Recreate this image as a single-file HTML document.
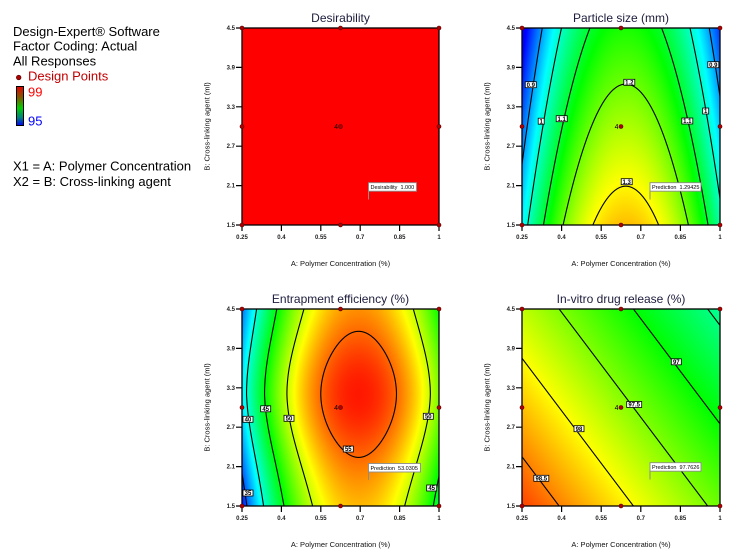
<!DOCTYPE html>
<html><head><meta charset="utf-8">
<style>
html,body{margin:0;padding:0;background:#fff;}
body{width:746px;height:559px;position:relative;overflow:hidden;font-family:"Liberation Sans",Arial,sans-serif;}
canvas,.fld{position:absolute;display:block;}
svg{position:absolute;left:0;top:0;}
</style></head><body>
<div class="fld" style="left:242px;top:28px;width:197px;height:197px;background:#ff0000;"></div>
<canvas id="c2" style="left:522px;top:28px;width:198px;height:197px;background:linear-gradient(90deg,#0040ff,#00ffd0 20%,#60ff00 50%,#00ffd0 80%,#0040ff);"></canvas>
<canvas id="c3" style="left:242px;top:309px;width:197px;height:197px;background:radial-gradient(#ff2000,#ffff00 45%,#00ff00 75%,#00a0ff);"></canvas>
<canvas id="c4" style="left:522px;top:309px;width:198px;height:197px;background:linear-gradient(45deg,#ff4000,#ffff00 45%,#40ff00 75%,#00ff90);"></canvas>

<svg width="746" height="559" viewBox="0 0 746 559" font-family="Liberation Sans, Arial, sans-serif">
<defs>
<linearGradient id="lg" x1="0" y1="0" x2="0" y2="1">
<stop offset="0" stop-color="#e80000"/><stop offset="0.3" stop-color="#7a6000"/><stop offset="0.55" stop-color="#00d000"/><stop offset="0.8" stop-color="#008080"/><stop offset="1" stop-color="#0000ff"/>
</linearGradient>
</defs>
<!-- left info -->
<g font-size="13" fill="#000">
<text x="13" y="36">Design-Expert® Software</text>
<text x="13" y="50.5">Factor Coding: Actual</text>
<text x="13" y="65.5">All Responses</text>
<text x="28" y="80.5" fill="#c00000">Design Points</text>
<text x="28" y="96.5" fill="#ff0000">99</text>
<text x="28" y="125.5" fill="#0000ff">95</text>
<text x="13" y="170.5">X1 = A: Polymer Concentration</text>
<text x="13" y="186">X2 = B: Cross-linking agent</text>
</g>
<circle cx="18.7" cy="77.5" r="2.3" fill="#b00000" stroke="#500000" stroke-width="0.7"/>
<rect x="16.5" y="86.5" width="7" height="39" fill="url(#lg)" stroke="#000" stroke-width="1"/>

<!-- titles -->
<g font-size="12" fill="#1c1c3c" text-anchor="middle">
<text x="340.5" y="22">Desirability</text>
<text x="621" y="22">Particle size (mm)</text>
<text x="340.5" y="303">Entrapment efficiency (%)</text>
<text x="621" y="303">In-vitro drug release (%)</text>
</g>
<!-- axis titles -->
<g font-size="7.5" fill="#111" text-anchor="middle">
<text x="340.5" y="266">A: Polymer Concentration (%)</text>
<text x="621" y="266">A: Polymer Concentration (%)</text>
<text x="340.5" y="547">A: Polymer Concentration (%)</text>
<text x="621" y="547">A: Polymer Concentration (%)</text>
<text transform="translate(209.5,126.5) rotate(-90)">B: Cross-linking agent (ml)</text>
<text transform="translate(489.5,126.5) rotate(-90)">B: Cross-linking agent (ml)</text>
<text transform="translate(209.5,407.5) rotate(-90)">B: Cross-linking agent (ml)</text>
<text transform="translate(489.5,407.5) rotate(-90)">B: Cross-linking agent (ml)</text>
</g>

<!-- borders -->
<g fill="none" stroke="#000" stroke-width="1.3">
<rect x="242" y="28" width="197" height="197"/>
<rect x="522" y="28" width="198" height="197"/>
<rect x="242" y="309" width="197" height="197"/>
<rect x="522" y="309" width="198" height="197"/>
</g>
<!-- ticks -->
<g stroke="#000" stroke-width="1.2">
<path d="M242 225v6M281.4 225v6M320.8 225v6M360.2 225v6M399.6 225v6M439 225v6M236 225h6M236 185.6h6M236 146.2h6M236 106.8h6M236 67.4h6M236 28h6"/>
<path d="M522 225v6M561.6 225v6M601.2 225v6M640.8 225v6M680.4 225v6M720 225v6M516 225h6M516 185.6h6M516 146.2h6M516 106.8h6M516 67.4h6M516 28h6"/>
<path d="M242 506v6M281.4 506v6M320.8 506v6M360.2 506v6M399.6 506v6M439 506v6M236 506h6M236 466.6h6M236 427.2h6M236 387.8h6M236 348.4h6M236 309h6"/>
<path d="M522 506v6M561.6 506v6M601.2 506v6M640.8 506v6M680.4 506v6M720 506v6M516 506h6M516 466.6h6M516 427.2h6M516 387.8h6M516 348.4h6M516 309h6"/>
</g>
<!-- tick labels -->
<g font-size="6" font-weight="bold" fill="#222" text-anchor="middle">
<text x="242" y="239">0.25</text><text x="281.4" y="239">0.4</text><text x="320.8" y="239">0.55</text><text x="360.2" y="239">0.7</text><text x="399.6" y="239">0.85</text><text x="439" y="239">1</text>
<text x="522" y="239">0.25</text><text x="561.6" y="239">0.4</text><text x="601.2" y="239">0.55</text><text x="640.8" y="239">0.7</text><text x="680.4" y="239">0.85</text><text x="720" y="239">1</text>
<text x="242" y="520">0.25</text><text x="281.4" y="520">0.4</text><text x="320.8" y="520">0.55</text><text x="360.2" y="520">0.7</text><text x="399.6" y="520">0.85</text><text x="439" y="520">1</text>
<text x="522" y="520">0.25</text><text x="561.6" y="520">0.4</text><text x="601.2" y="520">0.55</text><text x="640.8" y="520">0.7</text><text x="680.4" y="520">0.85</text><text x="720" y="520">1</text>
</g>
<g font-size="6" font-weight="bold" fill="#222" text-anchor="end">
<text x="235" y="227">1.5</text><text x="235" y="187.6">2.1</text><text x="235" y="148.2">2.7</text><text x="235" y="108.8">3.3</text><text x="235" y="69.4">3.9</text><text x="235" y="30">4.5</text>
<text x="515" y="227">1.5</text><text x="515" y="187.6">2.1</text><text x="515" y="148.2">2.7</text><text x="515" y="108.8">3.3</text><text x="515" y="69.4">3.9</text><text x="515" y="30">4.5</text>
<text x="235" y="508">1.5</text><text x="235" y="468.6">2.1</text><text x="235" y="429.2">2.7</text><text x="235" y="389.8">3.3</text><text x="235" y="350.4">3.9</text><text x="235" y="311">4.5</text>
<text x="515" y="508">1.5</text><text x="515" y="468.6">2.1</text><text x="515" y="429.2">2.7</text><text x="515" y="389.8">3.3</text><text x="515" y="350.4">3.9</text><text x="515" y="311">4.5</text>
</g>

<!-- contour labels -->
<g fill="#fff" stroke="#000" stroke-width="0.8">
<rect x="525.3" y="81.7" width="11" height="6"/>
<rect x="538.2" y="118.2" width="6" height="6"/>
<rect x="556.2" y="115.7" width="11" height="6"/>
<rect x="623.8" y="79.3" width="11" height="6"/>
<rect x="621.2" y="178.7" width="11" height="6"/>
<rect x="681.8" y="118" width="11" height="6"/>
<rect x="702.7" y="108" width="6" height="6"/>
<rect x="707.8" y="61.7" width="11" height="6"/>

<rect x="260.7" y="405.8" width="10" height="6"/>
<rect x="243" y="416.3" width="10" height="6"/>
<rect x="284" y="415.3" width="10" height="6"/>
<rect x="343.3" y="446" width="10" height="6"/>
<rect x="423.3" y="413.3" width="10" height="6"/>
<rect x="426.7" y="485" width="10" height="6"/>
<rect x="243" y="490" width="10" height="6"/>

<rect x="671.3" y="358.8" width="10" height="6"/>
<rect x="626.7" y="401.5" width="15" height="6"/>
<rect x="574" y="425.7" width="10" height="6"/>
<rect x="533.8" y="475.3" width="15" height="6"/>
</g>
<g font-size="6" font-weight="bold" fill="#000" text-anchor="middle">
<text x="530.8" y="86.9">0.9</text>
<text x="541.2" y="123.4">1</text>
<text x="561.7" y="120.9">1.1</text>
<text x="629.3" y="84.5">1.2</text>
<text x="626.7" y="183.9">1.3</text>
<text x="687.3" y="123.2">1.1</text>
<text x="705.7" y="113.2">1</text>
<text x="713.3" y="66.9">0.9</text>

<text x="265.7" y="411">45</text>
<text x="248" y="421.5">40</text>
<text x="289" y="420.5">50</text>
<text x="348.3" y="451.2">55</text>
<text x="428.3" y="418.5">50</text>
<text x="431.7" y="490.2">45</text>
<text x="248" y="495.2">35</text>

<text x="676.3" y="364">97</text>
<text x="634.2" y="406.7">97.5</text>
<text x="579" y="430.9">98</text>
<text x="541.3" y="480.5">98.5</text>
</g>

<!-- flags -->
<g fill="#fff" stroke="#8c8c8c" stroke-width="0.9">
<rect x="368.5" y="182.7" width="48" height="8.5"/>
<rect x="650" y="182.7" width="51" height="8.5"/>
<rect x="368.5" y="463.5" width="52" height="8.5"/>
<rect x="650" y="462.7" width="51" height="8.5"/>
</g>
<g stroke="#8c8c8c" stroke-width="1">
<path d="M368.5 191.2V199.5M650 191.2V199.5M368.5 472V480M650 471.2V479.5"/>
</g>
<g font-size="5.5" fill="#000">
<text x="370.5" y="189" xml:space="preserve">Desirability  1.000</text>
<text x="652" y="189" xml:space="preserve">Prediction  1.29425</text>
<text x="370.5" y="469.8" xml:space="preserve">Prediction  53.0305</text>
<text x="652" y="469" xml:space="preserve">Prediction  97.7626</text>
</g>

<!-- design points -->
<g fill="#b00000" stroke="#500000" stroke-width="0.6">
<circle cx="242" cy="225" r="2"/><circle cx="340.5" cy="225" r="2"/><circle cx="439" cy="225" r="2"/>
<circle cx="242" cy="126.5" r="2"/><circle cx="340.5" cy="126.5" r="2"/><circle cx="439" cy="126.5" r="2"/>
<circle cx="242" cy="28" r="2"/><circle cx="340.5" cy="28" r="2"/><circle cx="439" cy="28" r="2"/>
<circle cx="522" cy="225" r="2"/><circle cx="621" cy="225" r="2"/><circle cx="720" cy="225" r="2"/>
<circle cx="522" cy="126.5" r="2"/><circle cx="621" cy="126.5" r="2"/><circle cx="720" cy="126.5" r="2"/>
<circle cx="522" cy="28" r="2"/><circle cx="621" cy="28" r="2"/><circle cx="720" cy="28" r="2"/>
<circle cx="242" cy="506" r="2"/><circle cx="340.5" cy="506" r="2"/><circle cx="439" cy="506" r="2"/>
<circle cx="242" cy="407.5" r="2"/><circle cx="340.5" cy="407.5" r="2"/><circle cx="439" cy="407.5" r="2"/>
<circle cx="242" cy="309" r="2"/><circle cx="340.5" cy="309" r="2"/><circle cx="439" cy="309" r="2"/>
<circle cx="522" cy="506" r="2"/><circle cx="621" cy="506" r="2"/><circle cx="720" cy="506" r="2"/>
<circle cx="522" cy="407.5" r="2"/><circle cx="621" cy="407.5" r="2"/><circle cx="720" cy="407.5" r="2"/>
<circle cx="522" cy="309" r="2"/><circle cx="621" cy="309" r="2"/><circle cx="720" cy="309" r="2"/>
</g>
<g font-size="7" fill="#000" text-anchor="end">
<text x="338" y="129">4</text>
<text x="618.5" y="129">4</text>
<text x="338" y="410">4</text>
<text x="618.5" y="410">4</text>
</g>
</svg>

<script>
(function(){
var stops=[[0,0,0,255],[0.25,0,255,255],[0.5,0,255,0],[0.75,255,255,0],[1,255,0,0]];
function cmap(t){
  if(t<0)t=0;if(t>1)t=1;
  for(var i=0;i<4;i++){
    var a=stops[i],b=stops[i+1];
    if(t<=b[0]){var f=(t-a[0])/(b[0]-a[0]);
      return [a[1]+(b[1]-a[1])*f,a[2]+(b[2]-a[2])*f,a[3]+(b[3]-a[3])*f];}
  }
  return [255,0,0];
}
function render(id,W,H,f,lo,hi,levels){
  var S=2,c=document.getElementById(id);
  c.width=W*S;c.height=H*S;
  var ctx=c.getContext('2d');
  var CW=c.width,CH=c.height;
  var im=ctx.createImageData(CW,CH),d=im.data;
  var hx=0.75/CW,hy=3/CH;
  for(var j=0;j<CH;j++){
    var y=4.5-3*(j+0.5)/CH;
    for(var i=0;i<CW;i++){
      var x=0.25+0.75*(i+0.5)/CW;
      var v=f(x,y);
      var col=cmap((v-lo)/(hi-lo));
      var gx=(f(x+hx,y)-f(x-hx,y))/2,gy=(f(x,y+hy)-f(x,y-hy))/2;
      var g=Math.sqrt(gx*gx+gy*gy)+1e-12;
      var a=0;
      for(var k=0;k<levels.length;k++){
        var dist=Math.abs(v-levels[k])/g;
        var aa=1.6-dist; if(aa>1)aa=1; if(aa<0)aa=0;
        if(aa>a)a=aa;
      }
      var p=(j*CW+i)*4;
      d[p]=col[0]*(1-a);d[p+1]=col[1]*(1-a);d[p+2]=col[2]*(1-a);d[p+3]=255;
    }
  }
  ctx.putImageData(im,0,0);
}
render('c2',198,197,function(x,y){return 1.338-0.0643*(y-1.5)-2.45*(x-0.643)*(x-0.643);},0.80,1.46,[0.9,1.0,1.1,1.2,1.3]);
render('c3',197,197,function(x,y){var a=y<3.2?93+4*(3.2-y):93;var dd=(y-3.2)*(y-3.2);return 56.93-a*(x-0.694)*(x-0.694)-2.847*dd/(1+0.39*dd);},33,57.5,[35,40,45,50,55]);
render('c4',198,197,function(x,y){var u=(x-0.25)/0.75,v=(y-1.5)/3;return 98.75-1.333*u-1.0*v;},95,99,[96.5,97,97.5,98,98.5]);
})();
</script>
</body></html>
